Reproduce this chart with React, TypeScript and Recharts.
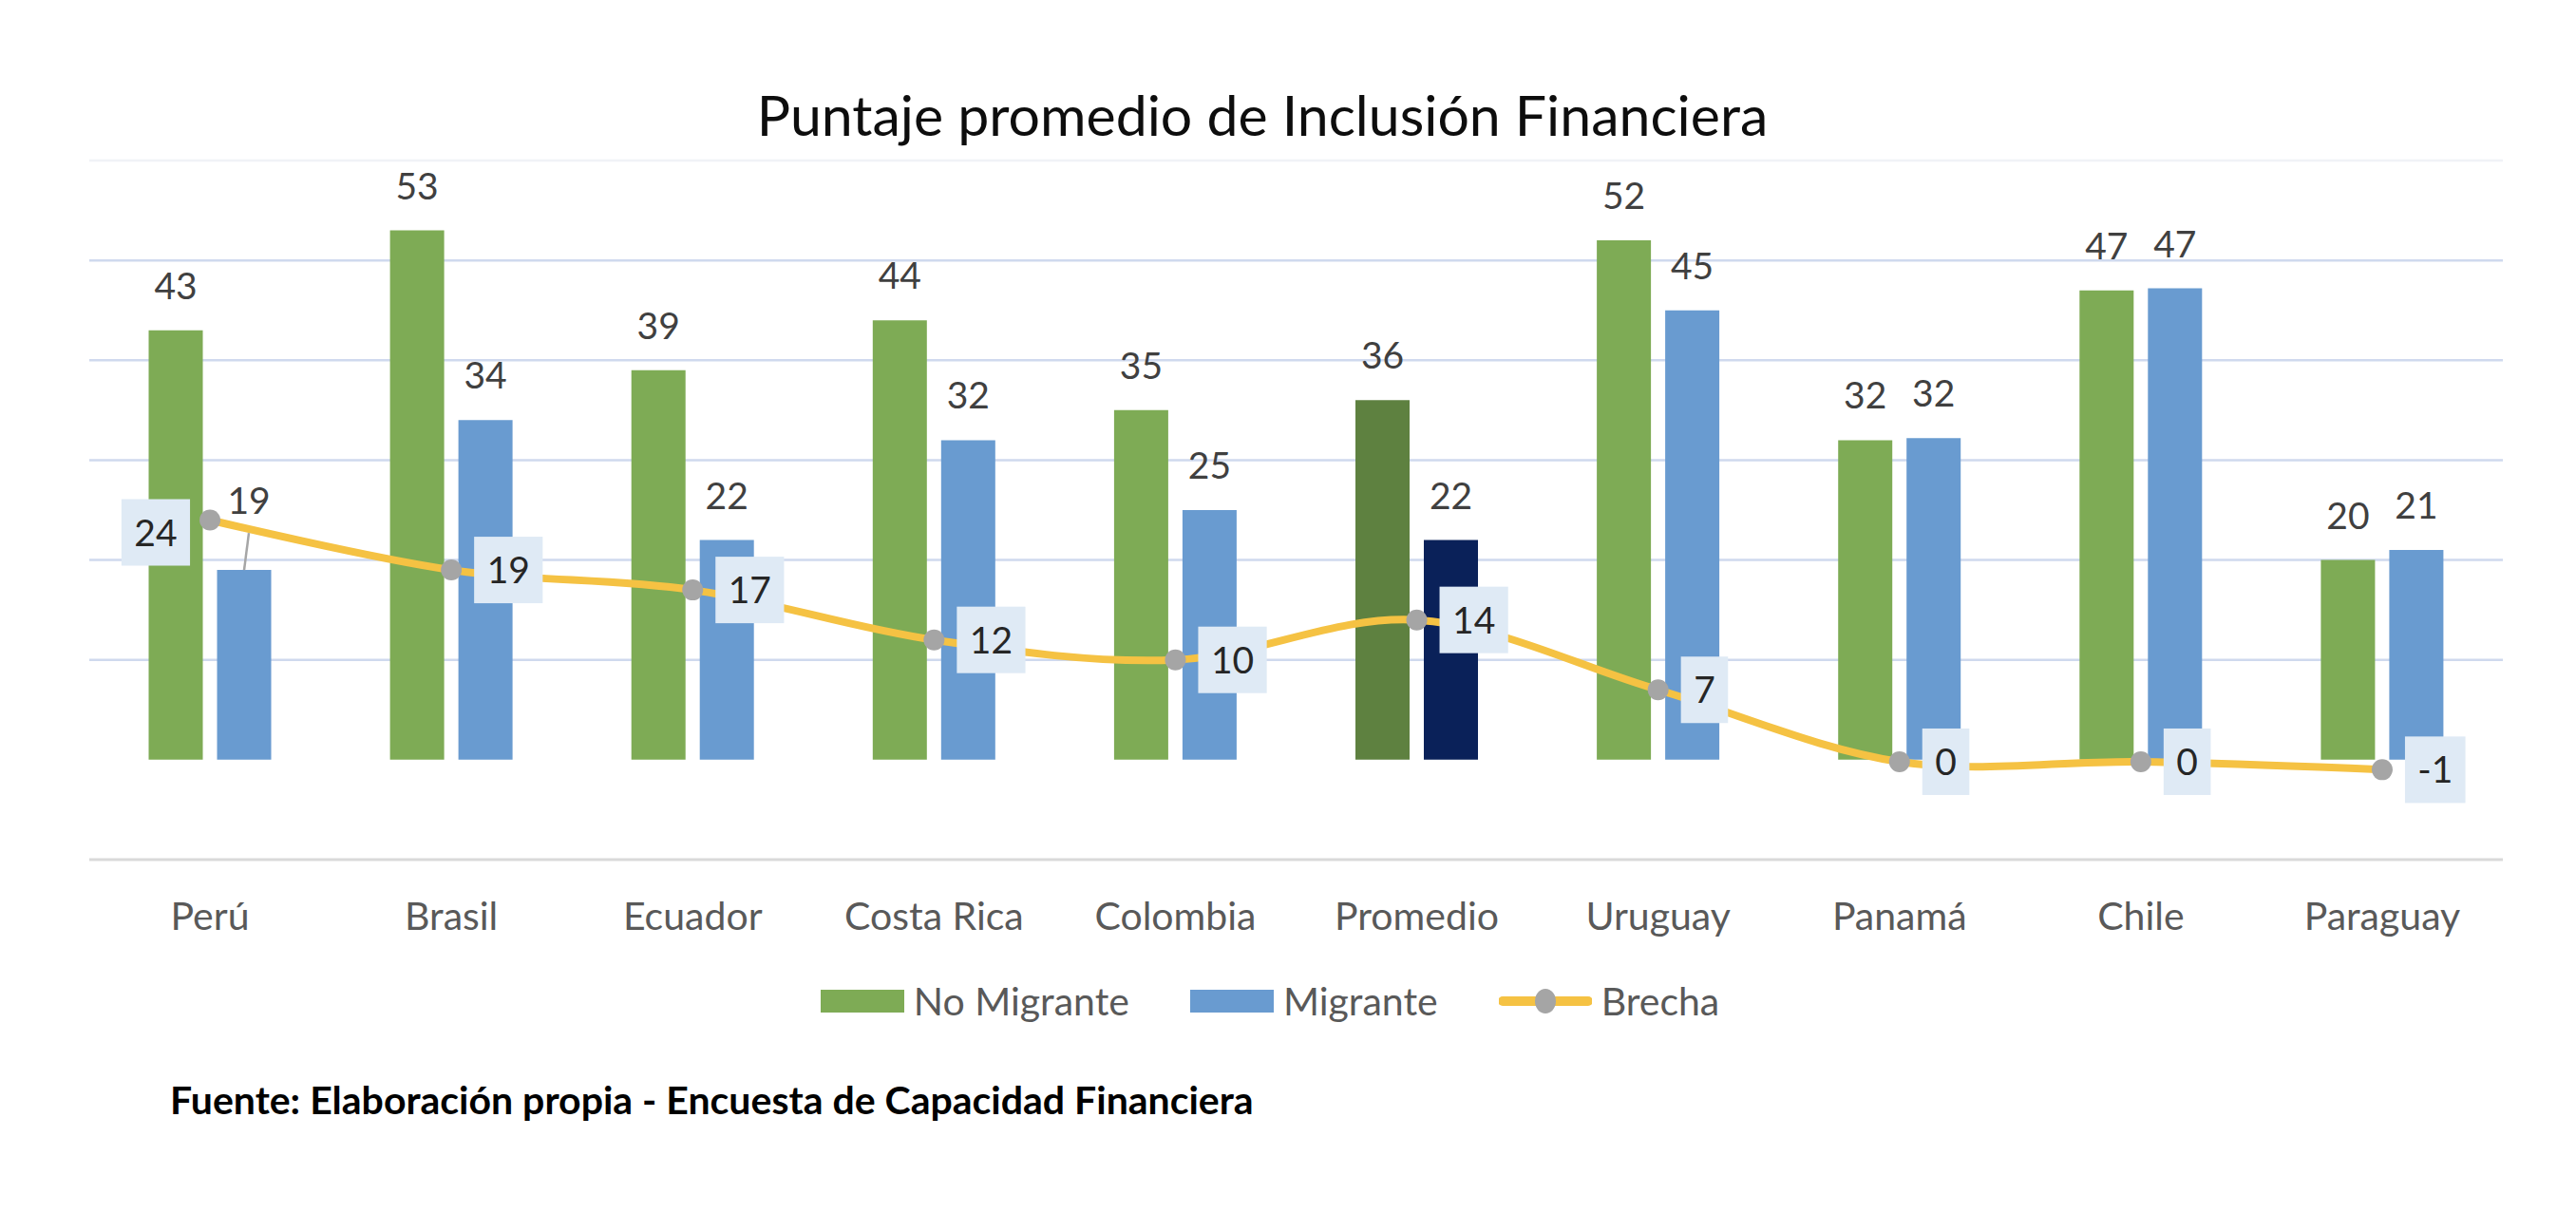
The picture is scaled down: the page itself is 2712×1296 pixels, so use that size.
import React from 'react';
import {
  ComposedChart,
  Bar,
  Line,
  XAxis,
  YAxis,
  CartesianGrid,
  LabelList,
  Legend,
  Cell,
} from 'recharts';

// ---------- data ----------
const categories = ['Perú', 'Brasil', 'Ecuador', 'Costa Rica', 'Colombia', 'Promedio', 'Uruguay', 'Panamá', 'Chile', 'Paraguay'];
const noMigrante = [43, 53, 39, 44, 35, 36, 52, 32, 47, 20];
const migrante = [19, 34, 22, 32, 25, 22, 45, 32.2, 47.2, 21];
const brecha = [24, 19, 17, 12, 10, 14, 7, -0.2, -0.2, -1];
const gridValues = [10, 20, 30, 40, 50];
const topGridValues = [60];
const yDomain: [number, number] = [-10, 60];
const seriesNames = ['No Migrante', 'Migrante', 'Brecha'];
const highlightCategory = 'Promedio';

const TITLE = 'Puntaje promedio de Inclusión Financiera';
const SOURCE = 'Fuente: Elaboración propia - Encuesta de Capacidad Financiera';

const data = categories.map((name, i) => ({
  name,
  noMig: noMigrante[i],
  mig: migrante[i],
  brecha: brecha[i],
}));

// ---------- styles ----------
const W = 2712;
const H = 1296;
const FONT = "Lato, 'Open Sans', sans-serif";
const GREEN = '#7EAB55';
const GREEN_DARK = '#5E8140';
const BLUE = '#699BD0';
const NAVY = '#0A2159';
const YELLOW = '#F5C243';
const DOT = '#A5A5A5';

const fmt = (v: number) => String(Math.round(v));

// Catmull-Rom style smoothing (like spreadsheet "smoothed line")
function smoothCurve(context: any) {
  const k = 1 / 6;
  const st: any = { _line: NaN, _point: 0 };
  const pt = (x: number, y: number) => {
    context.bezierCurveTo(
      st._x1 + k * (st._x2 - st._x0),
      st._y1 + k * (st._y2 - st._y0),
      st._x2 + k * (st._x1 - x),
      st._y2 + k * (st._y1 - y),
      st._x2,
      st._y2
    );
  };
  return {
    areaStart() { st._line = 0; },
    areaEnd() { st._line = NaN; },
    lineStart() {
      st._x0 = st._x1 = st._x2 = st._y0 = st._y1 = st._y2 = NaN;
      st._point = 0;
    },
    lineEnd() {
      switch (st._point) {
        case 2: context.lineTo(st._x2, st._y2); break;
        case 3: pt(st._x1, st._y1); break;
      }
      if (st._line || (st._line !== 0 && st._point === 1)) context.closePath();
      st._line = 1 - st._line;
    },
    point(x: number, y: number) {
      x = +x; y = +y;
      switch (st._point) {
        case 0:
          st._point = 1;
          st._line ? context.lineTo(x, y) : context.moveTo(x, y);
          break;
        case 1:
          st._point = 2;
          st._x1 = x; st._y1 = y;
          break;
        case 2:
          st._point = 3;
          pt(x, y);
          break;
        default:
          pt(x, y);
          break;
      }
      st._x0 = st._x1; st._x1 = st._x2; st._x2 = x;
      st._y0 = st._y1; st._y1 = st._y2; st._y2 = y;
    },
  };
}

const BarLabel = (props: any) => {
  const { x, y, width, value } = props;
  const cx = Number(x) + Number(width) / 2;
  return (
    <text x={cx} y={Number(y) - 33} textAnchor="middle" fontSize={39} fill="#404040" fontFamily={FONT}>
      {fmt(value)}
    </text>
  );
};

const MigLabel = (props: any) => {
  const { x, y, width, value, index } = props;
  const cx = Number(x) + Number(width) / 2;
  const top = Number(y);
  if (index === 0) {
    // label moved up, with a leader line
    return (
      <g>
        <line x1={cx + 5} y1={top - 39} x2={cx} y2={top} stroke="#A6A6A6" strokeWidth={2.5} />
        <text x={cx + 5} y={top - 73 + 14} textAnchor="middle" fontSize={39} fill="#404040" fontFamily={FONT}>
          {fmt(value)}
        </text>
      </g>
    );
  }
  return (
    <text x={cx} y={top - 33} textAnchor="middle" fontSize={39} fill="#404040" fontFamily={FONT}>
      {fmt(value)}
    </text>
  );
};

const textW = (s: string) => s.split('').reduce((a, c) => a + (c === '-' ? 14 : 22.6), 0);

const BrechaLabel = (props: any) => {
  const { x, y, value, index } = props;
  const txt = fmt(value);
  const w = textW(txt) + 27;
  const h = 70;
  const px = Number(x);
  const py = Number(y);
  const left = index === 0;
  const bx = left ? px - 21 - w : px + 24;
  const cy = left ? py + 13 : py;
  return (
    <g>
      <rect x={bx} y={cy - h / 2} width={w} height={h} fill="#DFEAF5" />
      <text x={bx + w / 2} y={cy + 14} textAnchor="middle" fontSize={39} fill="#262626" fontFamily={FONT}>
        {txt}
      </text>
    </g>
  );
};

const CategoryTick = (props: any) => {
  const { x, y, payload } = props;
  return (
    <text x={x} y={Number(y) + 74} textAnchor="middle" fontSize={41} fill="#595959" fontFamily={FONT}>
      {payload.value}
    </text>
  );
};

const LegendContent = (props: any) => {
  const payload = [...(props.payload || [])].sort(
    (a: any, b: any) => seriesNames.indexOf(a.value) - seriesNames.indexOf(b.value)
  );
  return (
    <div
      style={{
        display: 'flex',
        justifyContent: 'center',
        alignItems: 'center',
        gap: 64,
        paddingRight: 38,
        fontFamily: FONT,
        fontSize: 41,
        lineHeight: '50px',
        color: '#595959',
      }}
    >
      {payload.map((p: any) => (
        <div key={p.value} style={{ display: 'flex', alignItems: 'center', gap: 10 }}>
          {p.type === 'line' ? (
            <svg width={98} height={30}>
              <line x1={4} y1={15} x2={94} y2={15} stroke={YELLOW} strokeWidth={10} strokeLinecap="round" />
              <ellipse cx={49} cy={15} rx={11} ry={13} fill={DOT} />
            </svg>
          ) : (
            <svg width={88} height={24}>
              <rect x={0} y={0} width={88} height={24} fill={p.color} />
            </svg>
          )}
          <span>{p.value}</span>
        </div>
      ))}
    </div>
  );
};

export default function App() {
  return (
    <div style={{ position: 'absolute', left: 0, top: 0, width: W, height: H, background: '#fff' }}>
      <svg
        width={W}
        height={H}
        style={{ position: 'absolute', left: 0, top: 0, pointerEvents: 'none' }}
      >
        <text x={1329} y={143} textAnchor="middle" fontSize={59} fill="#0D0D0D" fontFamily={FONT}>
          {TITLE}
        </text>
        <text x={179} y={1173} fontSize={41} fontWeight={700} fill="#000" fontFamily={FONT}>
          {SOURCE}
        </text>
      </svg>
      <div style={{ position: 'absolute', left: 0, top: 0 }}>
        <ComposedChart
          width={W}
          height={H}
          data={data}
          margin={{ top: 169, right: 77, left: 94, bottom: 331 }}
          barCategoryGap="24.6%"
          barGap={15}
        >
          <CartesianGrid vertical={false} horizontalValues={gridValues} stroke="#CFD9EE" strokeWidth={2.5} />
          <CartesianGrid vertical={false} horizontalValues={topGridValues} stroke="#F0F2F7" strokeWidth={2.5} />
          <XAxis
            dataKey="name"
            interval={0}
            height={60}
            tickLine={false}
            tickSize={0}
            tickMargin={0}
            axisLine={{ stroke: '#D9D9D9', strokeWidth: 3 }}
            tick={<CategoryTick />}
          />
          <YAxis hide domain={yDomain} type="number" allowDataOverflow />
          <Legend
            verticalAlign="middle"
            layout="horizontal"
            width={W}
            content={<LegendContent />}
            wrapperStyle={{ top: 1029, left: 0, width: W }}
          />
          <Bar dataKey="noMig" name="No Migrante" fill={GREEN} isAnimationActive={false}>
            {data.map((d) => (
              <Cell key={d.name} fill={d.name === highlightCategory ? GREEN_DARK : GREEN} />
            ))}
            <LabelList dataKey="noMig" content={<BarLabel />} />
          </Bar>
          <Bar dataKey="mig" name="Migrante" fill={BLUE} isAnimationActive={false}>
            {data.map((d) => (
              <Cell key={d.name} fill={d.name === highlightCategory ? NAVY : BLUE} />
            ))}
            <LabelList dataKey="mig" content={<MigLabel />} />
          </Bar>
          <Line
            dataKey="brecha"
            name="Brecha"
            type={smoothCurve as any}
            stroke={YELLOW}
            strokeWidth={8}
            dot={{ r: 11, fill: DOT, stroke: 'none', strokeWidth: 0 }}
            activeDot={false}
            isAnimationActive={false}
          >
            <LabelList dataKey="brecha" content={<BrechaLabel />} />
          </Line>
        </ComposedChart>
      </div>
    </div>
  );
}
